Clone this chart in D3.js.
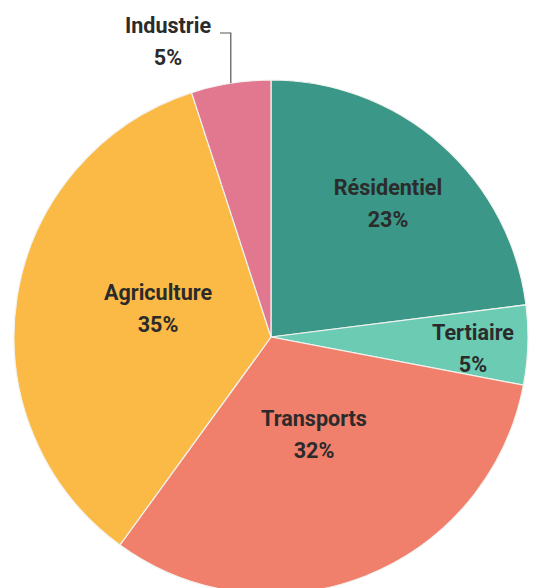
<!DOCTYPE html>
<html>
<head>
<meta charset="utf-8">
<script src="https://cdn.jsdelivr.net/npm/d3@7"></script>
<style>
  body { margin: 0; background: #fff; }
  svg text { font-family: Roboto, "DejaVu Sans Condensed", sans-serif; font-weight: bold; }
</style>
</head>
<body>
<svg id="chart" width="550" height="588"></svg>
<script>
// data (clockwise from 12 o'clock)
var sectors = ['Résidentiel', 'Tertiaire', 'Transports', 'Agriculture', 'Industrie'];
var shares = [23, 5, 32, 35, 5];
var sliceColors = ['#3b9787', '#6ccbb3', '#f07f6b', '#fbba46', '#e27890'];

var width = 550, height = 588;
var cx = 271, cy = 337, radius = 257;

// where each label sits, relative to the pie centre (name baseline)
var labelAt = {
    'Résidentiel': [117, -142],
    'Tertiaire': [202, 3],
    'Transports': [43, 89],
    'Agriculture': [-113, -37],
    'Industrie': [-103, -304]
};

var svg = d3.select('#chart');
var g = svg.append('g').attr('transform', 'translate(' + [cx, cy] + ')');

var color = d3.scaleOrdinal().domain(sectors).range(sliceColors);

var pie = d3.pie().sort(null).value(function (d) { return d.value; });
var data = sectors.map(function (s, i) { return { name: s, value: shares[i] }; });
var arcs = pie(data);

var arc = d3.arc().innerRadius(0).outerRadius(radius);

g.selectAll('.slice')
    .data(arcs)
    .enter()
    .append('path')
    .attr('class', 'slice')
    .attr('d', arc)
    .attr('fill', function (d) { return color(d.data.name); })
    .attr('stroke', '#f2f2ee')
    .attr('stroke-width', 1.2);

// labels (slightly squeezed for the condensed look)
var labels = g.selectAll('.label')
    .data(arcs)
    .enter()
    .append('text')
    .attr('class', 'label')
    .attr('text-anchor', 'middle')
    .attr('fill', '#2b2b2b')
    .style('font-size', '22px')
    .attr('transform', function (d) { return 'translate(' + labelAt[d.data.name] + ') scale(0.98,1)'; });

labels.append('tspan')
    .attr('x', 0)
    .attr('y', 0)
    .text(function (d) { return d.data.name; });

labels.append('tspan')
    .attr('x', 0)
    .attr('y', 32)
    .text(function (d) { return d.data.value + '%'; });

// leader line for the small outside label
var ind = arcs.filter(function (d) { return d.data.name === 'Industrie'; })[0];
var mid = (ind.startAngle + ind.endAngle) / 2;
var px = radius * Math.sin(mid), py = -radius * Math.cos(mid);
var lp = labelAt['Industrie'];
g.append('path')
    .attr('d', 'M' + (lp[0] + 52) + ',' + (lp[1]) + 'H' + px + 'V' + py)
    .attr('fill', 'none')
    .attr('stroke', '#555')
    .attr('stroke-width', 1.2);
</script>
</body>
</html>
